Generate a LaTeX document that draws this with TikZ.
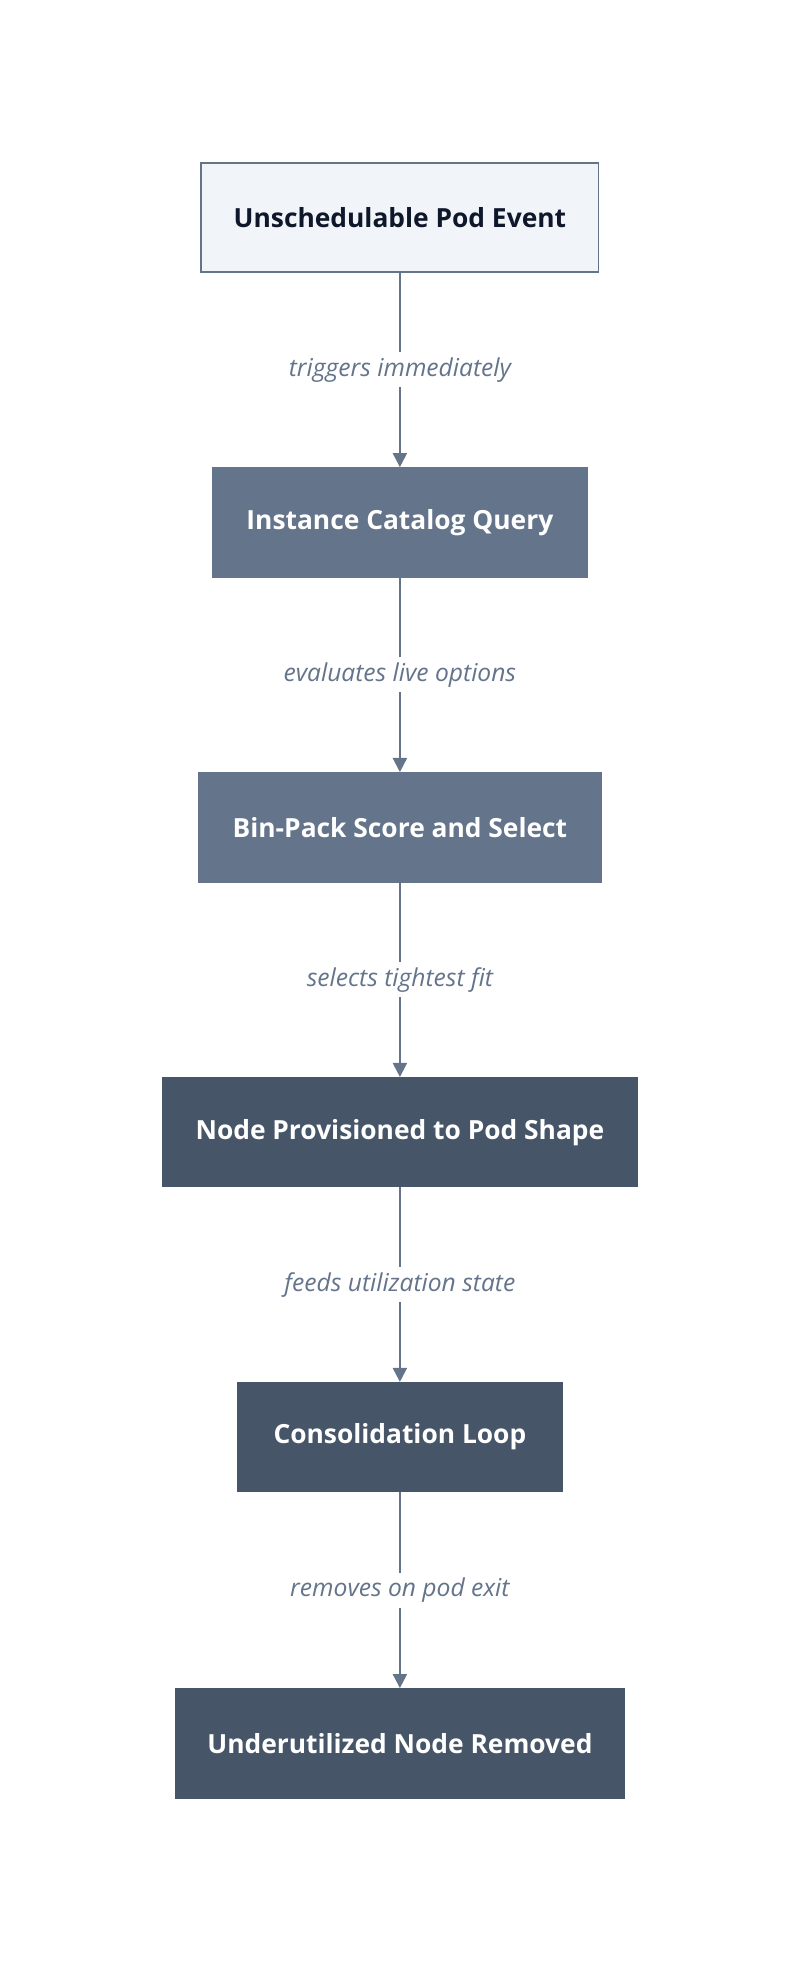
\documentclass[tikz,border=0pt]{standalone}
\usepackage{fontspec}
\setmainfont{Open Sans}
\usetikzlibrary{positioning,arrows.meta}
\definecolor{slateA}{HTML}{64748B}
\definecolor{slateB}{HTML}{475569}
\definecolor{paleBox}{HTML}{F1F5F9}
\definecolor{inkDark}{HTML}{0F172A}
\tikzset{
every picture/.style={
line width=1pt
}}
\begin{document}
\begin{tikzpicture}[x=0.025cm,y=-0.025cm,
  stage/.style={draw=slateA, minimum height=87*0.025cm, font=\fontsize{15}{17}\selectfont\bfseries, text=white, inner sep=0pt},
  flow/.style={draw=slateA, -{Triangle[length=8pt,width=8pt]}, line width=1.2pt},
  tag/.style={fill=white, text=slateA, font=\fontsize{14}{16}\selectfont\itshape, inner sep=3pt}]
\useasboundingbox (0,0) rectangle (640,1570);

\node[stage, fill=paleBox, text=inkDark, minimum width=318*0.025cm] (event) at (320,174) {Unschedulable Pod Event};
\node[stage, fill=slateA, minimum width=300*0.025cm] (catalog) at (320,418) {Instance Catalog Query};
\node[stage, fill=slateA, minimum width=322*0.025cm] (binpack) at (320,662) {Bin-Pack Score and Select};
\node[stage, fill=slateB, draw=slateB, minimum width=380*0.025cm] (provision) at (320,906) {Node Provisioned to Pod Shape};
\node[stage, fill=slateB, draw=slateB, minimum width=259*0.025cm] (consol) at (320,1150) {Consolidation Loop};
\node[stage, fill=slateB, draw=slateB, minimum width=359*0.025cm] (removed) at (320,1395) {Underutilized Node Removed};

% connectors with their labels
\foreach \a/\b/\t in {event/catalog/triggers immediately, catalog/binpack/evaluates live options, binpack/provision/selects tightest fit, provision/consol/feeds utilization state, consol/removed/removes on pod exit}{
  \draw[flow] (\a) -- node[tag] {\t} (\b);
}
\end{tikzpicture}
\end{document}
